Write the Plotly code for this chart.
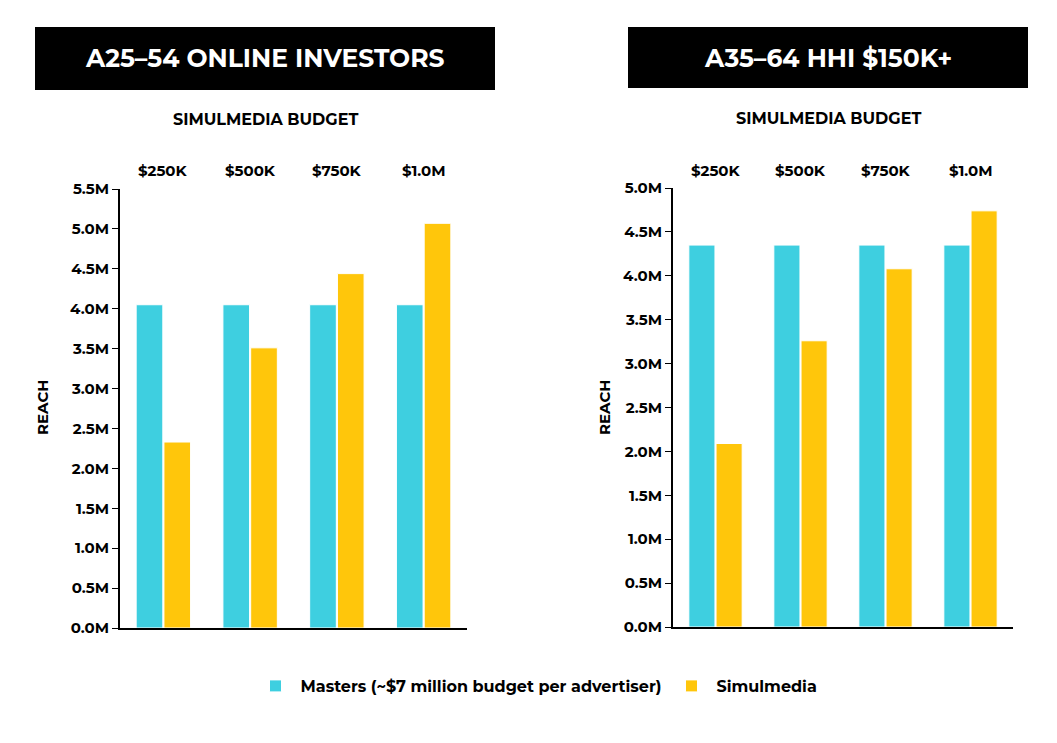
import plotly.graph_objects as go

budgets = ["$250K", "$500K", "$750K", "$1.0M"]
left_masters = [4.05, 4.05, 4.05, 4.05]
left_simul = [2.33, 3.51, 4.44, 5.07]
right_masters = [4.35, 4.35, 4.35, 4.35]
right_simul = [2.09, 3.26, 4.08, 4.74]
left_ticks = [i * 0.5 for i in range(12)]
right_ticks = [i * 0.5 for i in range(11)]

CYAN = "#3ECFE0"
YELLOW = "#FFC60B"
FONT = "Montserrat, Lato, Open Sans, sans-serif"
W, H = 1057, 743
OFF = 8  # page body margin

def px(x):
    return (x - OFF) / W

def py(y):
    return 1 - (y - OFF) / H

def labels(vals):
    return ["<b>%.1fM</b>" % v for v in vals]

fig = go.Figure()
for xa, ya, m, s, show in [("x", "y", left_masters, left_simul, True),
                           ("x2", "y2", right_masters, right_simul, False)]:
    fig.add_trace(go.Bar(x=budgets, y=m, name="<b>Masters (~$7 million budget per advertiser)</b>",
                         marker=dict(color=CYAN, line=dict(color="white", width=1)),
                         xaxis=xa, yaxis=ya, showlegend=show, legendgroup="m"))
    fig.add_trace(go.Bar(x=budgets, y=s, name="<b>Simulmedia</b>",
                         marker=dict(color=YELLOW, line=dict(color="white", width=1)),
                         xaxis=xa, yaxis=ya, showlegend=show, legendgroup="s"))

axis_x = dict(showline=True, linecolor="black", linewidth=2, showticklabels=False,
              ticks="", showgrid=False, fixedrange=True, automargin=False)
axis_y = dict(showline=True, linecolor="black", linewidth=2, ticks="outside", ticklen=6,
              tickcolor="black", showgrid=False, zeroline=False, automargin=False,
              tickfont=dict(family=FONT, size=15, color="black"))

fig.update_layout(
    width=W, height=H, margin=dict(l=0, r=0, t=0, b=0, autoexpand=False),
    plot_bgcolor="white", paper_bgcolor="white",
    barmode="group", bargap=0.36, bargroupgap=0.04,
    font=dict(family=FONT, color="black"),
    xaxis=dict(axis_x, domain=[px(120), px(467)]),
    xaxis2=dict(axis_x, domain=[px(673), px(1013)], anchor="y2"),
    yaxis=dict(axis_y, domain=[py(628), py(189)], range=[0, 5.5],
               tickvals=left_ticks, ticktext=labels(left_ticks)),
    yaxis2=dict(axis_y, domain=[py(627), py(188)], range=[0, 5.0],
                tickvals=right_ticks, ticktext=labels(right_ticks), anchor="x2"),
    legend=dict(orientation="h", x=0.5, xanchor="center", y=py(686), yanchor="middle",
                font=dict(family=FONT, size=16, color="black"), itemwidth=40),
)

shapes = []
annos = []
for x0, x1, y0, y1, title in [(35, 495, 27, 90, "A25\u201354 ONLINE INVESTORS"),
                              (628, 1028, 27, 88, "A35\u201364 HHI $150K+")]:
    shapes.append(dict(type="rect", xref="paper", yref="paper", x0=px(x0), x1=px(x1),
                       y0=py(y1), y1=py(y0), fillcolor="black", line=dict(width=0)))
    annos.append(dict(text="<b>" + title + "</b>", xref="paper", yref="paper",
                      x=px((x0 + x1) / 2), y=py((y0 + y1) / 2), xanchor="center",
                      yanchor="middle", showarrow=False,
                      font=dict(size=25, color="white", family=FONT)))

for sub, cx, ty, rx in [("", 265, 120, 42), ("2", 828, 118, 604)]:
    annos.append(dict(text="<b>SIMULMEDIA BUDGET</b>", xref="paper", yref="paper", x=px(cx),
                      y=py(ty), xanchor="center", yanchor="middle", showarrow=False,
                      font=dict(size=16, family=FONT)))
    annos.append(dict(text="<b>REACH</b>", xref="paper", yref="paper", x=px(rx),
                      y=py(408), xanchor="center", yanchor="middle", showarrow=False,
                      textangle=-90, font=dict(size=15, family=FONT)))
    for b in budgets:
        annos.append(dict(text="<b>" + b + "</b>", xref="x" + sub, yref="paper", x=b,
                          y=py(170), xanchor="center", yanchor="middle", showarrow=False,
                          font=dict(size=15, family=FONT)))

fig.update_layout(shapes=shapes, annotations=annos)
fig.write_html("out.html")
